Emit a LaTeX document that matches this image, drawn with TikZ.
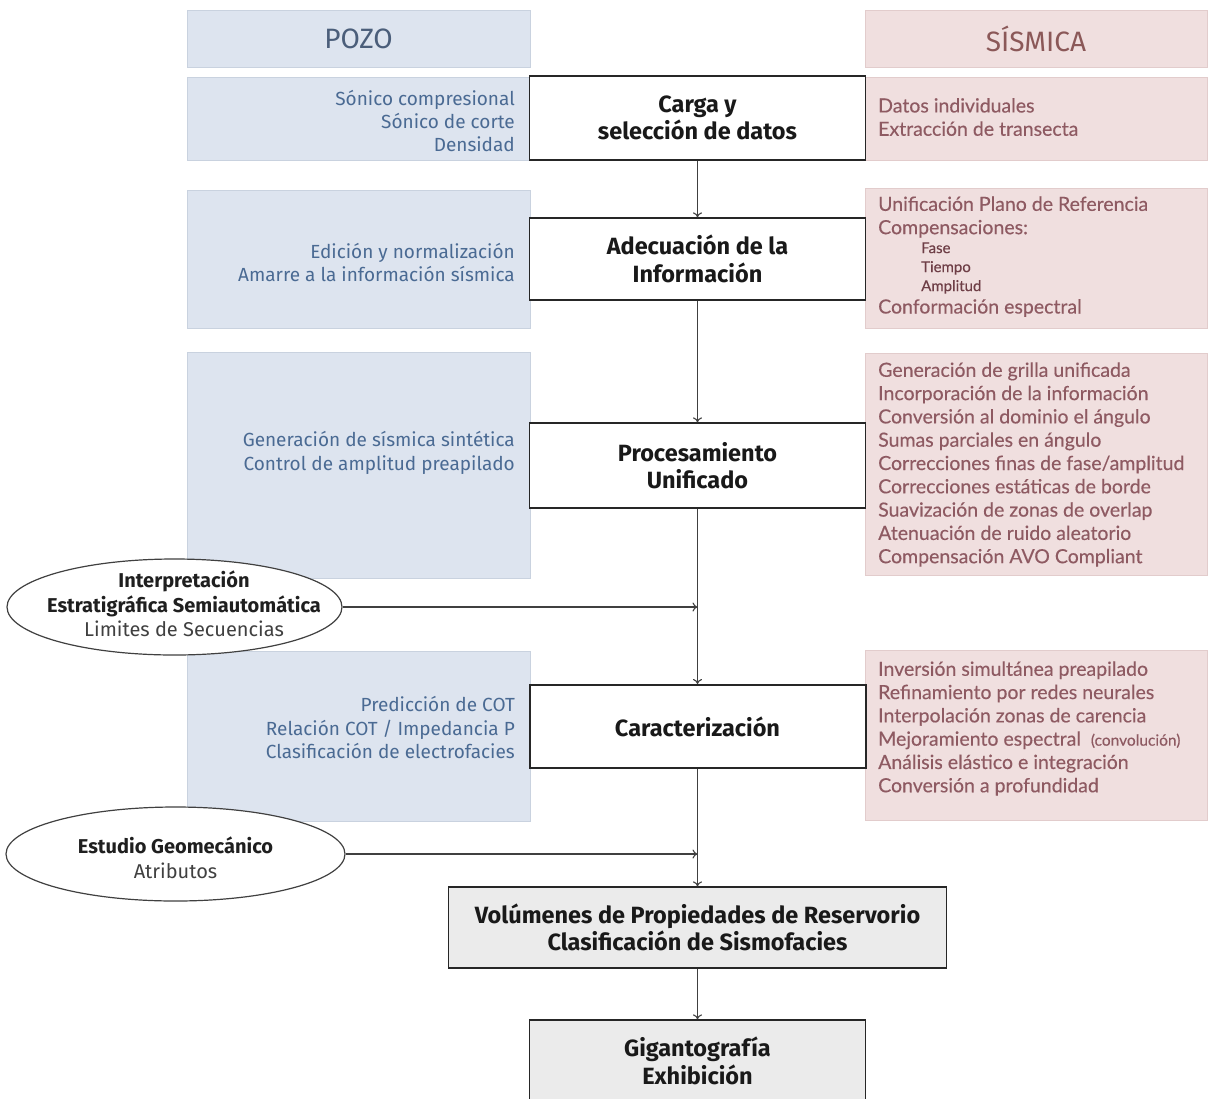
\documentclass[tikz,border=0pt]{standalone}
\usepackage{fontspec}
\setmainfont{Fira Sans}
\newfontfamily\latofont[FakeBold=0.3]{Lato}
\usetikzlibrary{arrows.meta,shapes.geometric}
\definecolor{bfill}{HTML}{DDE4EF}
\definecolor{bedge}{HTML}{C9D2DF}
\definecolor{btxt}{HTML}{4A6A93}
\definecolor{bhead}{HTML}{4B5E7A}
\definecolor{pfill}{HTML}{F0DFDF}
\definecolor{pedge}{HTML}{E2CCCC}
\definecolor{ptxt}{HTML}{8E5A62}
\definecolor{pdark}{HTML}{6E3E46}
\definecolor{phead}{HTML}{8B5858}
\definecolor{gfill}{HTML}{EBEBEB}
\tikzset{
  bpanel/.style={draw=bedge, fill=bfill, line width=0.8pt, inner sep=0pt, minimum width=343},
  ppanel/.style={draw=pedge, fill=pfill, line width=0.8pt, inner sep=0pt, minimum width=342},
  btext/.style={inner sep=0pt, align=right, anchor=east, text=btxt, font=\fontsize{19}{23.3}\selectfont},
  ptext/.style={inner sep=0pt, align=left, anchor=west, text=ptxt, font=\latofont\fontsize{19.5}{23.3}\selectfont},
  mainbox/.style={draw=black!85, fill=white, line width=1.3pt, inner sep=0pt, align=center,
    minimum width=336, text=black!90, font=\bfseries\fontsize{23.5}{27.5}\selectfont},
  greybox/.style={mainbox, fill=gfill},
  oval/.style={ellipse, draw=black!75, fill=white, line width=1.2pt, inner sep=0pt},
  ovaltext/.style={inner sep=0pt, align=center, text=black!88, font=\fontsize{20}{24.5}\selectfont},
  conn/.style={draw=black!75, line width=1.1pt, -{To[length=5pt,width=9pt]}}
}
\begin{document}
\begin{tikzpicture}[x=1pt,y=-1pt]
\useasboundingbox[fill=white] (0,0) rectangle (1209,1098);
\clip (0,0) rectangle (1209,1098);

% headers
\node[bpanel, minimum height=57, text=bhead, font=\fontsize{28}{30}\selectfont] (pozo) at (358.5,38.5) {POZO};
\node[ppanel, minimum height=57, text=phead, font=\fontsize{28}{30}\selectfont] (sismica) at (1036,38.5) {SÍSMICA};

% blue panels
\node[bpanel, minimum height=83] (b1) at (358.5,118.5) {};
\node[bpanel, minimum height=138] (b2) at (358.5,259) {};
\node[bpanel, minimum height=226] (b3) at (358.5,465) {};
\node[bpanel, minimum height=170] (b4) at (358.5,736) {};

% pink panels
\node[ppanel, minimum height=83] (p1) at (1036,118.5) {};
\node[ppanel, minimum height=140] (p2) at (1036,258) {};
\node[ppanel, minimum height=222] (p3) at (1036,464) {};
\node[ppanel, minimum height=170] (p4) at (1036,735) {};

% blue texts
\node[btext] (b1t) at (515,121) {Sónico compresional\\Sónico de corte\\Densidad};
\node[btext] (b2t) at (515,262.5) {Edición y normalización\\Amarre a la información sísmica};
\node[btext] (b3t) at (515,453) {Generación de sísmica sintética\\Control de amplitud preapilado};
\node[btext] (b4t) at (515,727.5) {Predicción de COT\\Relación COT / Impedancia P\\Clasificación de electrofacies};

% pink texts
\node[ptext] (p1t) at (878,117) {Datos individuales\\Extracción de transecta};
\node[ptext] (p2a) at (878,217) {Unificación Plano de Referencia\\Compensaciones:};
\node[ptext, text=pdark, font=\latofont\fontsize{15}{19}\selectfont] (p2b) at (921,268) {Fase\\Tiempo\\Amplitud};
\node[ptext] (p2c) at (878,308) {Conformación espectral};
\node[ptext] (p3t) at (878,464.5) {Generación de grilla unificada\\Incorporación de la información\\Conversión al dominio el ángulo\\Sumas parciales en ángulo\\Correcciones finas de fase/amplitud\\Correcciones estáticas de borde\\Suavización de zonas de overlap\\Atenuación de ruido aleatorio\\Compensación AVO Compliant};
\node[ptext] (p4t) at (878,728.5) {Inversión simultánea preapilado\\Refinamiento por redes neurales\\Interpolación zonas de carencia\\Mejoramiento espectral \ {\fontsize{15.5}{16}\selectfont(convolución)}\\Análisis elástico e integración\\Conversión a profundidad};

% main boxes
\node[mainbox, minimum height=84] (carga) at (697.5,118) {Carga y\\selección de datos};
\node[mainbox, minimum height=82] (adec) at (697.5,259) {Adecuación de la\\Información};
\node[mainbox, minimum height=85] (proc) at (697.5,465.5) {Procesamiento\\Unificado};
\node[mainbox, minimum height=83, line width=2pt] (carac) at (697.5,726.5) {Caracterización};
\node[greybox, minimum width=498, minimum height=81] (vol) at (697.5,927.5) {Volúmenes de Propiedades de Reservorio\\Clasificación de Sismofacies};
\node[greybox, minimum height=82] (giga) at (697.5,1061) {Gigantografía\\Exhibición};

% ellipses
\node[oval, minimum width=335, minimum height=96] (e1) at (174.5,607) {};
\node[ovaltext] (e1t) at (184,604) {\bfseries Interpretación\\\bfseries Estratigráfica Semiautomática\\{\color{black!75}Limites de Secuencias}};
\node[oval, minimum width=339, minimum height=94] (e2) at (175.5,854) {};
\node[ovaltext] (e2t) at (175.5,858) {\bfseries Estudio Geomecánico\\{\color{black!75}Atributos}};

% junction points on the main line
\coordinate (j1) at (697.5,607);
\coordinate (j2) at (697.5,854);

% connectors
\draw[conn] (carga.south) -- (adec.north);
\draw[conn] (adec.south) -- (proc.north);
\draw[conn] (proc.south) -- (carac.north);
\draw[conn] (carac.south) -- (vol.north);
\draw[conn] (vol.south) -- (giga.north);
\draw[conn] (e1) -- (j1);
\draw[conn] (e2) -- (j2);
\end{tikzpicture}
\end{document}
